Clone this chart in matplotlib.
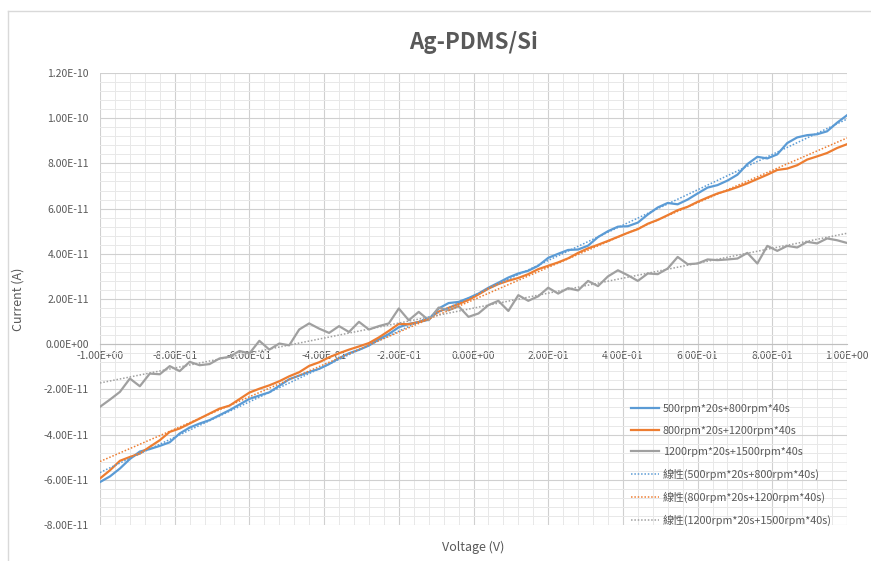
import numpy as np
import matplotlib
matplotlib.use("Agg")
import matplotlib.pyplot as plt
from matplotlib.ticker import MultipleLocator, FuncFormatter
from matplotlib.lines import Line2D

# Fonts: CJK family first so the legend can show 線性
plt.rcParams['font.family'] = ['Noto Sans CJK TC', 'DejaVu Sans']

# Voltage sweep (-1 V .. 1 V, 76 points)
voltage = np.linspace(-1.0, 1.0, 76)

# Current readings, in units of 1e-11 A
cur_500_800 = [
    -6.10, -5.85, -5.50, -5.08, -4.75, -4.64, -4.50, -4.34, -3.95, -3.69,
    -3.51, -3.36, -3.14, -2.92, -2.67, -2.42, -2.27, -2.13, -1.84, -1.55,
    -1.39, -1.23, -1.09, -0.88, -0.62, -0.40, -0.25, -0.06, 0.22, 0.45,
    0.75, 0.90, 0.98, 1.08, 1.58, 1.82, 1.87, 2.04, 2.24, 2.50,
    2.72, 2.95, 3.13, 3.25, 3.47, 3.82, 4.00, 4.17, 4.19, 4.36,
    4.74, 5.00, 5.20, 5.22, 5.38, 5.74, 6.05, 6.25, 6.19, 6.40,
    6.67, 6.93, 7.04, 7.24, 7.50, 7.97, 8.29, 8.22, 8.40, 8.90,
    9.15, 9.25, 9.29, 9.42, 9.80, 10.13,
]
cur_800_1200 = [
    -5.94, -5.58, -5.16, -4.99, -4.84, -4.54, -4.25, -3.88, -3.73, -3.51,
    -3.29, -3.07, -2.85, -2.72, -2.43, -2.14, -1.97, -1.82, -1.64, -1.42,
    -1.24, -0.96, -0.80, -0.58, -0.40, -0.24, -0.10, 0.05, 0.30, 0.59,
    0.90, 0.88, 0.98, 1.13, 1.44, 1.61, 1.78, 1.96, 2.20, 2.46,
    2.66, 2.81, 2.93, 3.10, 3.32, 3.47, 3.62, 3.80, 4.04, 4.24,
    4.40, 4.57, 4.75, 4.93, 5.09, 5.33, 5.50, 5.71, 5.93, 6.08,
    6.30, 6.49, 6.67, 6.80, 6.95, 7.12, 7.31, 7.50, 7.71, 7.77,
    7.92, 8.17, 8.31, 8.46, 8.68, 8.85,
]
cur_1200_1500 = [
    -2.77, -2.45, -2.11, -1.52, -1.86, -1.30, -1.33, -0.97, -1.19, -0.78,
    -0.93, -0.88, -0.63, -0.56, -0.30, -0.41, 0.15, -0.24, 0.03, -0.05,
    0.65, 0.92, 0.69, 0.50, 0.80, 0.54, 0.99, 0.65, 0.80, 0.92,
    1.58, 1.06, 1.43, 1.06, 1.62, 1.50, 1.68, 1.21, 1.36, 1.73,
    1.92, 1.47, 2.17, 1.92, 2.12, 2.50, 2.24, 2.48, 2.38, 2.80,
    2.57, 3.00, 3.27, 3.05, 2.80, 3.13, 3.10, 3.35, 3.86, 3.54,
    3.57, 3.75, 3.72, 3.75, 3.79, 4.04, 3.57, 4.35, 4.13, 4.35,
    4.28, 4.53, 4.46, 4.68, 4.60, 4.48,
]

series_names = ["500rpm*20s+800rpm*40s", "800rpm*20s+1200rpm*40s", "1200rpm*20s+1500rpm*40s"]
series_data = [cur_500_800, cur_800_1200, cur_1200_1500]
colors = ["#5B9BD5", "#ED7D31", "#A0A0A0"]
text_color = "#595959"

x_ticks = [-1.0, -0.8, -0.6, -0.4, -0.2, 0.0, 0.2, 0.4, 0.6, 0.8, 1.0]
y_ticks = [-8e-11, -6e-11, -4e-11, -2e-11, 0.0, 2e-11, 4e-11, 6e-11, 8e-11, 1e-10, 1.2e-10]

fig = plt.figure(figsize=(8.71, 5.61), dpi=100)
ax = fig.add_axes([100 / 871, 1 - 525 / 561, 747 / 871, 452 / 561])

# chart area border (top and left)
fig.add_artist(Line2D([8 / 871, 1.0], [1 - 11 / 561] * 2, color="#D9D9D9", lw=1))
fig.add_artist(Line2D([8 / 871] * 2, [0.0, 1 - 11 / 561], color="#D9D9D9", lw=1))

handles = []
for name, data, c in zip(series_names, series_data, colors):
    y = np.array(data) * 1e-11
    h, = ax.plot(voltage, y, color=c, lw=1.6, label=name, zorder=3)
    handles.append(h)

# linear trendlines
for name, data, c in zip(series_names, series_data, colors):
    y = np.array(data) * 1e-11
    k, b = np.polyfit(voltage, y, 1)
    xs = np.array([-1.0, 1.0])
    h, = ax.plot(xs, k * xs + b, color=c, lw=1.1, linestyle=(0, (1, 1.2)),
                 label="線性(" + name + ")", zorder=4)
    handles.append(h)

ax.set_xlim(-1.0, 1.0)
ax.set_ylim(-8e-11, 1.2e-10)

ax.set_xticks(x_ticks)
ax.set_yticks(y_ticks)
ax.xaxis.set_minor_locator(MultipleLocator(0.04))
ax.yaxis.set_minor_locator(MultipleLocator(4e-12))
sci = FuncFormatter(lambda v, p: "{:.2E}".format(0.0 if abs(v) < 1e-15 else v))
ax.xaxis.set_major_formatter(sci)
ax.yaxis.set_major_formatter(sci)

ax.grid(which="major", color="#D0D0D0", lw=0.8, zorder=0)
ax.grid(which="minor", color="#E8E8E8", lw=0.7, zorder=0)
ax.set_axisbelow(True)

for s in ["top", "right", "left"]:
    ax.spines[s].set_visible(False)
ax.spines["bottom"].set_position(("data", 0))
ax.spines["bottom"].set_color("#BFBFBF")
ax.tick_params(which="both", length=0, labelsize=7.5, colors=text_color)
ax.tick_params(axis="x", pad=5)
ax.tick_params(axis="y", pad=8)

fig.text(473.5 / 871, 1 - 42 / 561, "Ag-PDMS/Si", ha="center", va="center",
         fontsize=16, fontweight="bold", color=text_color)
fig.text(473.5 / 871, 1 - 547 / 561, "Voltage (V)", ha="center", va="center",
         fontsize=9, color=text_color)
fig.text(18 / 871, 1 - 299 / 561, "Current (A)", ha="center", va="center",
         rotation=90, fontsize=9, color=text_color)

ax.legend(handles=handles, loc="upper left", bbox_to_anchor=(631 / 871, 1 - 404 / 561),
          bbox_transform=fig.transFigure, frameon=False, fontsize=7.8,
          labelcolor=text_color, handlelength=2.6, handletextpad=0.35,
          labelspacing=1.07, borderpad=0, borderaxespad=0)

fig.savefig("out.png", dpi=100)
